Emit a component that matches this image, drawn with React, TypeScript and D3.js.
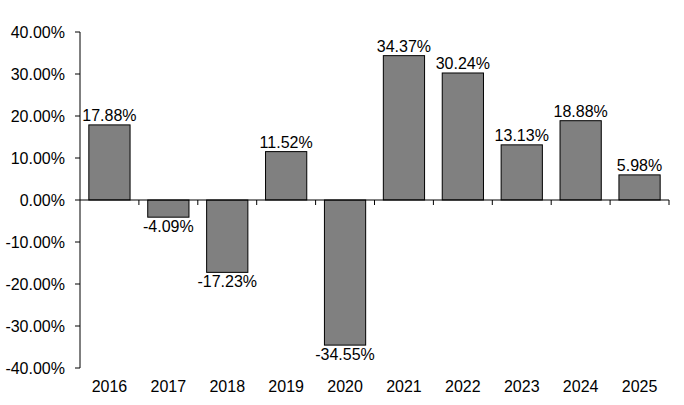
import React from "react";
import * as d3 from "d3";

const years = ["2016","2017","2018","2019","2020","2021","2022","2023","2024","2025"];
const returns = [17.88,-4.09,-17.23,11.52,-34.55,34.37,30.24,13.13,18.88,5.98];
const yTicks = [-40,-30,-20,-10,0,10,20,30,40];

export default function App() {
  const W = 684, H = 405;
  const left = 80, right = 669, top = 32, bottom = 368;
  const x = d3.scaleBand<string>().domain(years).range([left, right]).paddingInner(0.3).paddingOuter(0.15);
  const xb = d3.scaleBand<string>().domain(years).range([left, right]);
  const y = d3.scaleLinear().domain([-40, 40]).range([bottom, top]);
  const font = "Liberation Sans, Arial, sans-serif";
  const y0 = y(0);
  return (
    <svg width={W} height={H} style={{ position: "absolute", left: 0, top: 0 }} fontFamily={font}>
      <rect width={W} height={H} fill="#fff" />
      {years.map((yr, i) => {
        const v = returns[i];
        const yt = y(Math.max(v, 0));
        const h = Math.abs(y(v) - y0);
        const cx = (x(yr) as number) + x.bandwidth() / 2;
        return (
          <g key={yr}>
            <rect x={x(yr)} y={yt} width={x.bandwidth()} height={h} fill="#808080" stroke="#000" strokeWidth={1} />
            <text x={cx} y={v >= 0 ? y(v) - 4 : y(v) + 15} textAnchor="middle" fontSize={16} fill="#000">
              {v.toFixed(2)}%
            </text>
            <text x={(xb(yr) as number) + xb.bandwidth() / 2} y={392} textAnchor="middle" fontSize={16} fill="#000">
              {yr}
            </text>
          </g>
        );
      })}
      <line x1={left} x2={right} y1={y0} y2={y0} stroke="#000" strokeWidth={1} />
      {years.map((yr) => {
        const bx = (xb(yr) as number) + xb.bandwidth();
        return <line key={"t" + yr} x1={bx} x2={bx} y1={y0} y2={y0 + 5} stroke="#000" />;
      })}
      <line x1={left} x2={left} y1={top} y2={bottom} stroke="#000" strokeWidth={1} />
      {yTicks.map((t) => (
        <g key={t}>
          <line x1={left - 5} x2={left} y1={y(t)} y2={y(t)} stroke="#000" />
          <text x={65} y={y(t) + 6} textAnchor="end" fontSize={16} fill="#000">
            {t.toFixed(2)}%
          </text>
        </g>
      ))}
    </svg>
  );
}
